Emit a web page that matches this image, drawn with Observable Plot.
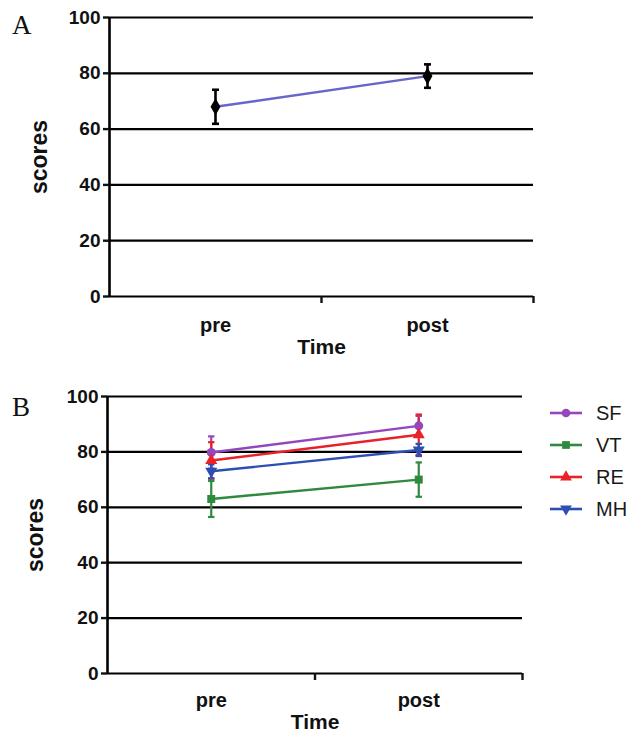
<!DOCTYPE html>
<html>
<head>
<meta charset="utf-8">
<script src="https://cdn.jsdelivr.net/npm/d3@7"></script>
<script src="https://cdn.jsdelivr.net/npm/@observablehq/plot@0.6"></script>
<style>
  html, body { margin: 0; padding: 0; background: #fff; }
  #page { position: relative; width: 633px; height: 735px; overflow: hidden; font-family: "Liberation Sans", Arial, sans-serif; }
  .panel { position: absolute; left: 0; }
  .letter { position: absolute; left: 12px; font-family: "Liberation Serif", "Times New Roman", serif; font-size: 27px; color: #111; }
  .panel svg { overflow: visible; }
  #legend { position: absolute; left: 549px; top: 397px; }
  .lg-row { display: flex; align-items: center; height: 32px; }
  .lg-row span { font-size: 20px; color: #1a1a1a; margin-left: 13px; font-family: "Liberation Sans", Arial, sans-serif; }
</style>
</head>
<body>
<div id="page">
  <div class="letter" style="top:10px">A</div>
  <div class="letter" style="top:392px">B</div>
  <div class="panel" id="panelA" style="top:0px"></div>
  <div class="panel" id="panelB" style="top:370px"></div>
  <div id="legend"></div>
</div>
<script>
// Time points and score axis ticks
const timepoints = ["pre", "post"];
const yTicks = [0, 20, 40, 60, 80, 100];

// Panel A: overall score, mean and error
const overallMean = [68, 79];
const overallErr = [6.1, 4.2];

// Panel B: subscale scores, mean and error per time point
const seriesNames = ["SF", "VT", "RE", "MH"];
const seriesColors = ["#9546bd", "#2f8a3e", "#e8222b", "#2d4fb4"];
const seriesSymbols = ["circle", "square", "triangle", "triangle"];
const sfMean = [79.8, 89.4], sfErr = [5.8, 3.6];
const vtMean = [63.0, 70.0], vtErr = [6.5, 6.2];
const reMean = [76.9, 86.2], reErr = [6.6, 7.3];
const mhMean = [73.0, 80.7], mhErr = [2.5, 2.2];

// band centre for each time point on a [0, 2] axis
const xOf = (t) => timepoints.indexOf(t) + 0.5;

const dataA = timepoints.map((t, i) => ({time: t, mean: overallMean[i], err: overallErr[i]}));

const seriesMeans = [sfMean, vtMean, reMean, mhMean];
const seriesErrs = [sfErr, vtErr, reErr, mhErr];
const dataB = seriesNames.flatMap((s, k) =>
  timepoints.map((t, i) => ({series: s, time: t, mean: seriesMeans[k][i], err: seriesErrs[k][i]}))
);

// horizontal cap used at the ends of the error bars
const cap = {
  draw(context, size) {
    const w = Math.sqrt(size / Math.PI);
    context.moveTo(-w, 0);
    context.lineTo(w, 0);
  }
};

const FONT = "'Liberation Sans', Arial, sans-serif";

function frameMarks(opts) {
  return [
    Plot.gridY(yTicks, {stroke: "#000", strokeOpacity: 1, strokeWidth: 2.2}),
    Plot.ruleX([0], {stroke: "#000", strokeWidth: 2.6}),
    Plot.axisY(yTicks, {
      tickSize: 6, tickPadding: 3, strokeWidth: 2.4, label: null,
      fontSize: 19, fontWeight: "bold", fontFamily: FONT
    }),
    Plot.axisY({
      ticks: [], tickSize: 0,
      label: "scores", labelAnchor: "center", labelArrow: "none", labelOffset: opts.yLabelOffset,
      fontSize: 23, fontWeight: "bold", fontFamily: FONT
    }),
    Plot.axisX(timepoints.map(xOf), {
      tickSize: 0, tickPadding: opts.xTickPadding, tickFormat: (d) => timepoints[d - 0.5], label: null,
      fontSize: 20, fontWeight: "bold", fontFamily: FONT
    }),
    Plot.axisX({
      ticks: [], tickSize: 0,
      label: "Time", labelAnchor: "center", labelArrow: "none", labelOffset: opts.xLabelOffset,
      fontSize: 21, fontWeight: "bold", fontFamily: FONT
    }),
    Plot.axisX([1, 2], {tickSize: 7, strokeWidth: 2.4, tickFormat: () => "", label: null})
  ];
}

const baseStyle = {fontFamily: FONT, fontSize: "17px", fontWeight: "bold", color: "#111", background: "transparent"};

const chartA = Plot.plot({
  width: 633, height: 365,
  marginLeft: 109, marginRight: 100, marginTop: 17, marginBottom: 69,
  style: baseStyle,
  x: {domain: [0, 2]},
  y: {domain: [0, 100]},
  marks: [
    ...frameMarks({yLabelOffset: 79, xLabelOffset: 57, xTickPadding: 21}),
    Plot.line(dataA, {x: (d) => xOf(d.time), y: "mean", stroke: "#6767c9", strokeWidth: 2.4}),
    Plot.ruleX(dataA, {x: (d) => xOf(d.time), y1: (d) => d.mean - d.err, y2: (d) => d.mean + d.err, stroke: "#000", strokeWidth: 2.6}),
    Plot.dot(dataA, {x: (d) => xOf(d.time), y: (d) => d.mean - d.err, symbol: cap, r: 3.5, stroke: "#000", fill: "none", strokeWidth: 2.6}),
    Plot.dot(dataA, {x: (d) => xOf(d.time), y: (d) => d.mean + d.err, symbol: cap, r: 3.5, stroke: "#000", fill: "none", strokeWidth: 2.6}),
    Plot.dot(dataA, {x: (d) => xOf(d.time), y: "mean", symbol: "diamond", r: 5.2, fill: "#000", stroke: "none"})
  ]
});
document.getElementById("panelA").append(chartA);

const chartB = Plot.plot({
  width: 633, height: 365,
  marginLeft: 107, marginRight: 111, marginTop: 26, marginBottom: 62,
  style: baseStyle,
  x: {domain: [0, 2]},
  y: {domain: [0, 100]},
  color: {domain: seriesNames, range: seriesColors},
  symbol: {domain: seriesNames, range: seriesSymbols},
  marks: [
    ...frameMarks({yLabelOffset: 81, xLabelOffset: 55, xTickPadding: 19}),
    Plot.line(dataB, {x: (d) => xOf(d.time), y: "mean", z: "series", stroke: "series", strokeWidth: 2.4}),
    Plot.ruleX(dataB, {x: (d) => xOf(d.time), y1: (d) => d.mean - d.err, y2: (d) => d.mean + d.err, stroke: "series", strokeWidth: 2.2}),
    Plot.dot(dataB, {x: (d) => xOf(d.time), y: (d) => d.mean - d.err, symbol: cap, r: 3.2, stroke: "series", fill: "none", strokeWidth: 2.2}),
    Plot.dot(dataB, {x: (d) => xOf(d.time), y: (d) => d.mean + d.err, symbol: cap, r: 3.2, stroke: "series", fill: "none", strokeWidth: 2.2}),
    Plot.dot(dataB, {x: (d) => xOf(d.time), y: "mean", symbol: "series", fill: "series", stroke: "none", r: 4.5,
      rotate: (d) => (d.series === "MH" ? 180 : 0)})
  ]
});
document.getElementById("panelB").append(chartB);

// legend: line segment with the series marker, then the series name
const legend = d3.select("#legend");
seriesNames.forEach((name, k) => {
  const row = legend.append("div").attr("class", "lg-row");
  const svg = row.append("svg").attr("width", 34).attr("height", 14);
  svg.append("line").attr("x1", 1).attr("x2", 33).attr("y1", 7).attr("y2", 7)
    .attr("stroke", seriesColors[k]).attr("stroke-width", 2.6);
  const type = {circle: d3.symbolCircle, square: d3.symbolSquare, triangle: d3.symbolTriangle}[seriesSymbols[k]];
  svg.append("path").attr("d", d3.symbol(type, 60)())
    .attr("transform", `translate(17,7) rotate(${name === "MH" ? 180 : 0})`)
    .attr("fill", seriesColors[k]);
  row.append("span").text(name);
});
</script>
</body>
</html>
